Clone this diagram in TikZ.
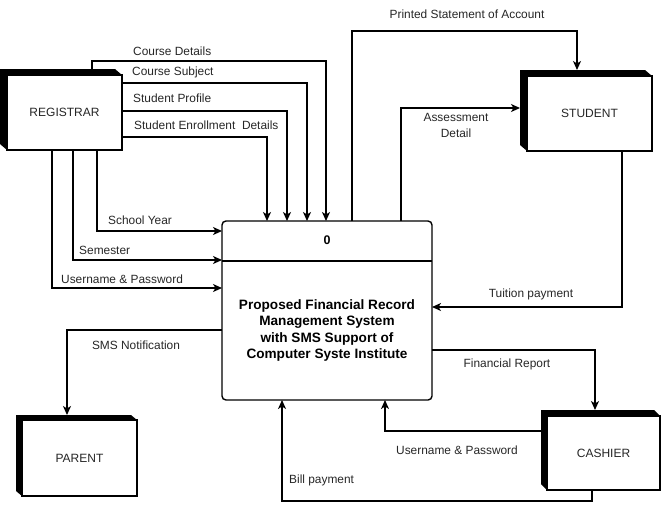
\documentclass[tikz,border=0pt]{standalone}
\usepackage{fontspec}
\setmainfont{Liberation Sans}
\usetikzlibrary{arrows.meta,calc}
\tikzset{
  entity/.style={draw,line width=1.2pt,fill=white,inner sep=0pt,outer sep=0pt,font=\fontsize{12}{14}\selectfont,text=black!85},
  proc/.style={draw,line width=1.4pt,rounded corners=4pt,inner sep=0pt,outer sep=0pt},
  flow/.style={line width=1.4pt,-{Stealth[length=9pt,width=8pt,inset=2.5pt]}},
  lbl/.style={font=\fontsize{11.9}{13}\selectfont,text=black!85,inner sep=0pt},
  ptxt/.style={font=\bfseries\fontsize{13.6}{16.4}\selectfont,align=center,inner sep=0pt}
}
\begin{document}
\begin{tikzpicture}[x=1pt,y=-1pt]
\useasboundingbox (0,0) rectangle (663,509);
% entities
\node[entity,minimum width=115pt,minimum height=75pt] (reg) at (64.5,112.5) {REGISTRAR};
\node[entity,minimum width=125pt,minimum height=75pt] (stu) at (589.5,113.5) {STUDENT};
\node[entity,minimum width=115pt,minimum height=76pt] (par) at (79.5,458) {PARENT};
\node[entity,minimum width=113pt,minimum height=74pt] (cas) at (603.5,453) {CASHIER};
% 3D depth
\foreach \n/\dx/\dy in {reg/7/6,stu/7/6,par/6/5,cas/6/6}{
  \fill[black] ([xshift=-\dx pt,yshift=\dy pt]\n.north west) -- ([xshift=-\dx pt,yshift=\dy pt]\n.north east) -- (\n.north east) -- (\n.north west) -- (\n.south west) -- ([xshift=-\dx pt,yshift=\dy pt]\n.south west) -- cycle;
}
% process
\node[proc,minimum width=210pt,minimum height=179pt] (p) at (327,310.5) {};
\draw[line width=1.4pt] ($(p.north west)+(0,40)$) -- ($(p.north east)+(0,40)$);
\node[font=\bfseries\fontsize{12.5}{14}\selectfont] (pn) at (327,240) {0};
\node[ptxt] (pt) at (327,330.5) {Proposed Financial Record\\Management System\\with SMS Support of\\Computer Syste Institute};
% registrar flows
\draw[flow] ($(reg.north west)+(85,-6)$) -- ++(0,-8) -| ($(p.north west)+(104,0)$);
\draw[flow] ($(reg.north east)+(0,8)$) -| ($(p.north west)+(85,0)$);
\draw[flow] ($(reg.north east)+(0,36)$) -| ($(p.north west)+(65,0)$);
\draw[flow] ($(reg.north east)+(0,62)$) -| ($(p.north west)+(45,0)$);
\draw[flow] ($(reg.south west)+(90,0)$) |- ($(p.north west)+(0,10)$);
\draw[flow] ($(reg.south west)+(66,0)$) |- ($(p.north west)+(0,39)$);
\draw[flow] ($(reg.south west)+(45,0)$) |- ($(p.north west)+(0,67)$);
% student flows
\draw[flow] ($(p.north west)+(130,0)$) -- ++(0,-190) -| ($(stu.north west)+(50,-6)$);
\draw[flow] ($(p.north west)+(179,0)$) |- ($(stu.north west)+(-7,32)$);
\draw[flow] ($(stu.south west)+(95,0)$) |- ($(p.north east)+(0,86)$);
% parent
\draw[flow] ($(p.north west)+(0,109)$) -| ($(par.north west)+(45,-5)$);
% cashier
\draw[flow] ($(p.north east)+(0,129)$) -| ($(cas.north west)+(48,-6)$);
\draw[flow] ($(cas.north west)+(-6,15)$) -| ($(p.south west)+(163,0)$);
\draw[flow] ($(cas.south west)+(45,0)$) -- ++(0,11) -| ($(p.south west)+(60,0)$);
% labels
\node[lbl,anchor=west] (l1) at (133,51) {Course Details};
\node[lbl,anchor=west] (l2) at (132,72) {Course Subject};
\node[lbl,anchor=west] (l3) at (133,98) {Student Profile};
\node[lbl,anchor=west] (l4) at (134,125) {Student Enrollment\ \ Details};
\node[lbl,anchor=west] (l5) at (108,220) {School Year};
\node[lbl,anchor=west] (l6) at (79,250) {Semester};
\node[lbl,anchor=west] (l7) at (61,279) {Username \& Password};
\node[lbl] (l8) at (467,14) {Printed Statement of Account};
\node[lbl,align=center,font=\fontsize{11.9}{16}\selectfont] (l9) at (456,125) {Assessment\\Detail};
\node[lbl] (l10) at (531,294) {Tuition payment};
\node[lbl] (l11) at (136,345) {SMS Notification};
\node[lbl] (l12) at (507,364) {Financial Report};
\node[lbl] (l13) at (457,450) {Username \& Password};
\node[lbl,anchor=west] (l14) at (289,480) {Bill payment};
\end{tikzpicture}
\end{document}
